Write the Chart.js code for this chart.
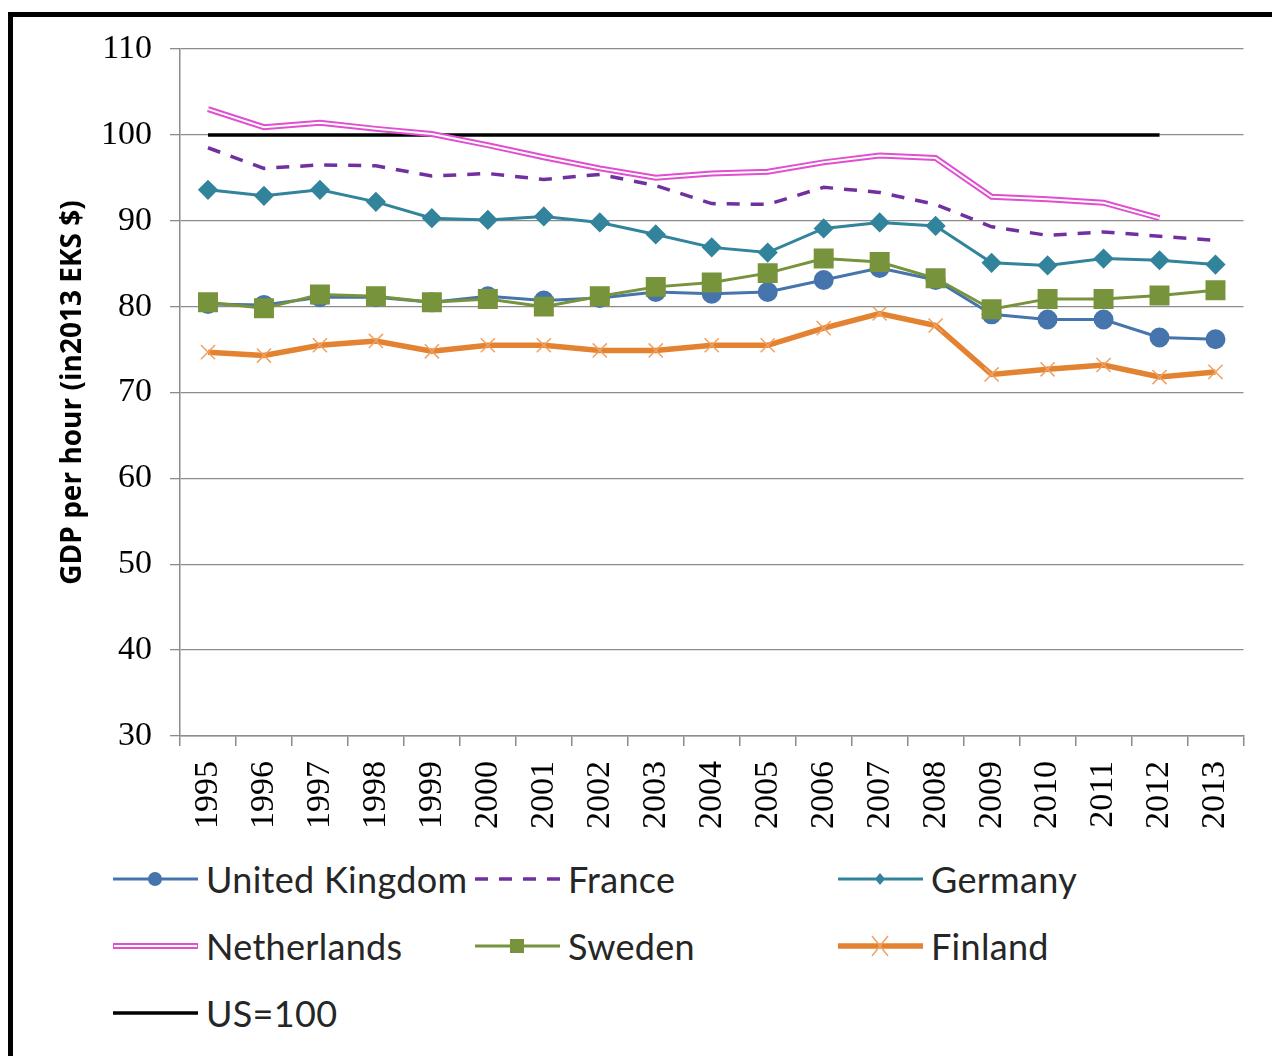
<!DOCTYPE html>
<html>
<head>
<meta charset="utf-8">
<script src="https://cdn.jsdelivr.net/npm/chart.js@4.4.1/dist/chart.umd.min.js"></script>
<style>
  body { margin: 0; background: #fff; }
  #wrap { position: relative; width: 1272px; height: 1056px; overflow: hidden; background: #fff; }
  #frame { position: absolute; left: 8px; top: 12px; width: 1320px; height: 1120px; border: 5px solid #000; box-sizing: border-box; }
  #chart { position: absolute; left: 0; top: 0; }
  .item { position: absolute; height: 44px; display: flex; align-items: center; font-family: Lato, sans-serif; font-size: 36px; letter-spacing: 0.3px; color: #262626; white-space: nowrap; }
  .item svg { margin-right: 8px; }
</style>
</head>
<body>
<div id="wrap">
  <div id="frame"></div>
  <canvas id="chart" width="1272" height="850"></canvas>
  <div id="legend"></div>
</div>
<script>
const years = ['1995', '1996', '1997', '1998', '1999', '2000', '2001', '2002', '2003', '2004',
  '2005', '2006', '2007', '2008', '2009', '2010', '2011', '2012', '2013'];

const ukValues = [80.3, 80.2, 81.1, 81.1, 80.5, 81.2, 80.7, 81.0, 81.7, 81.5, 81.7, 83.1, 84.5, 83.1, 79.1, 78.5, 78.5, 76.4, 76.2];
const franceValues = [98.5, 96.1, 96.5, 96.4, 95.2, 95.5, 94.8, 95.4, 94.1, 92.0, 91.9, 93.9, 93.3, 91.9, 89.3, 88.3, 88.7, 88.2, 87.7];
const germanyValues = [93.6, 92.9, 93.6, 92.2, 90.3, 90.1, 90.5, 89.8, 88.4, 86.9, 86.3, 89.1, 89.8, 89.4, 85.1, 84.8, 85.6, 85.4, 84.9];
const netherlandsValues = [103.0, 100.9, 101.4, 100.7, 100.1, 98.8, 97.4, 96.1, 95.0, 95.5, 95.7, 96.8, 97.6, 97.3, 92.8, 92.5, 92.1, 90.3, null];
const swedenValues = [80.5, 79.8, 81.4, 81.2, 80.5, 80.9, 80.0, 81.2, 82.3, 82.8, 83.9, 85.6, 85.2, 83.3, 79.7, 80.9, 80.9, 81.3, 81.9];
const finlandValues = [74.7, 74.3, 75.5, 76.0, 74.8, 75.5, 75.5, 74.9, 74.9, 75.5, 75.5, 77.5, 79.2, 77.8, 72.1, 72.7, 73.2, 71.8, 72.4];
const usValues = [100, 100, 100, 100, 100, 100, 100, 100, 100, 100, 100, 100, 100, 100, 100, 100, 100, 100, null];

const yTicks = [30, 40, 50, 60, 70, 80, 90, 100, 110];

const tickFont = { family: "'Liberation Serif', serif", size: 34 };

const datasets = [
  { label: 'United Kingdom', data: ukValues, borderColor: '#4674AC', backgroundColor: '#4674AC', borderWidth: 3,
    pointStyle: 'circle', pointRadius: 8.5, order: 2 },
  { label: 'France', data: franceValues, borderColor: '#7030A0', backgroundColor: '#7030A0', borderWidth: 3.5,
    borderDash: [13, 11], pointRadius: 0, order: 5 },
  { label: 'Germany', data: germanyValues, borderColor: '#31849B', backgroundColor: '#31849B', borderWidth: 3,
    pointStyle: 'rectRot', pointRadius: 8, order: 4 },
  { label: 'Netherlands', data: netherlandsValues, borderColor: '#E04FD0', backgroundColor: '#E04FD0', borderWidth: 6,
    pointRadius: 0, order: 7 },
  { label: 'nl-inner', data: netherlandsValues, borderColor: '#ffffff', borderWidth: 2,
    pointRadius: 0, order: 6 },
  { label: 'Sweden', data: swedenValues, borderColor: '#77933C', backgroundColor: '#77933C', borderWidth: 3,
    pointStyle: 'rect', pointRadius: 12, order: 1 },
  { label: 'Finland', data: finlandValues, borderColor: '#E38231', backgroundColor: '#E38231', borderWidth: 5.5,
    pointStyle: 'crossRot', pointRadius: 10, pointBorderColor: '#F0A060', pointBorderWidth: 1.5, order: 3 },
  { label: 'US=100', data: usValues, borderColor: '#000000', backgroundColor: '#000000', borderWidth: 3.5,
    pointRadius: 0, order: 9 }
];

new Chart(document.getElementById('chart'), {
  type: 'line',
  data: { labels: years, datasets: datasets },
  options: {
    responsive: false,
    animation: false,
    layout: { padding: { left: 56, right: 27, top: 49, bottom: 0 } },
    elements: { line: { tension: 0 } },
    plugins: { legend: { display: false }, tooltip: { enabled: false } },
    scales: {
      x: {
        type: 'category',
        offset: true,
        grid: { offset: true, drawOnChartArea: false, drawTicks: true, tickLength: 10, color: '#8c8c8c', lineWidth: 1.5 },
        border: { color: '#8c8c8c', width: 1.5 },
        ticks: { minRotation: 90, maxRotation: 90, autoSkip: false, padding: 15, color: '#000', font: tickFont },
        afterFit: (s) => { s.height = 114; }
      },
      y: {
        min: 30,
        max: 110,
        afterBuildTicks: (s) => { s.ticks = yTicks.map(v => ({ value: v })); },
        grid: { color: '#8c8c8c', lineWidth: 1.3, tickLength: 10 },
        border: { color: '#8c8c8c', width: 1.5 },
        ticks: { padding: 18, color: '#000', font: tickFont },
        title: { display: true, text: 'GDP per hour (in2013 EKS $)', color: '#000',
          font: { family: "'Open Sans', sans-serif", weight: 'bold', size: 28 }, padding: 0 },
        afterFit: (s) => { s.width = 124; }
      }
    }
  }
});

// legend built from the datasets
const legendItems = [
  { label: 'United Kingdom', x: 113, y: 879 },
  { label: 'France', x: 475, y: 879 },
  { label: 'Germany', x: 838, y: 879 },
  { label: 'Netherlands', x: 113, y: 946 },
  { label: 'Sweden', x: 475, y: 946 },
  { label: 'Finland', x: 838, y: 946 },
  { label: 'US=100', x: 113, y: 1013 }
];

function sampleSvg(ds) {
  const w = 85, h = 30, cy = 15, cx = 42;
  let s = '<svg width="' + w + '" height="' + h + '">';
  const dash = ds.borderDash ? ' stroke-dasharray="' + ds.borderDash.join(' ') + '"' : '';
  s += '<line x1="0" y1="' + cy + '" x2="' + w + '" y2="' + cy + '" stroke="' + ds.borderColor + '" stroke-width="' + ds.borderWidth + '"' + dash + '/>';
  if (ds.label === 'Netherlands') {
    s += '<line x1="1" y1="' + cy + '" x2="' + (w - 1) + '" y2="' + cy + '" stroke="#fff" stroke-width="2"/>';
  }
  if (ds.pointStyle === 'circle') {
    s += '<circle cx="' + cx + '" cy="' + cy + '" r="7" fill="' + ds.backgroundColor + '"/>';
  } else if (ds.pointStyle === 'rectRot') {
    s += '<polygon points="' + cx + ',' + (cy - 6) + ' ' + (cx + 5) + ',' + cy + ' ' + cx + ',' + (cy + 6) + ' ' + (cx - 5) + ',' + cy + '" fill="' + ds.backgroundColor + '"/>';
  } else if (ds.pointStyle === 'rect') {
    s += '<rect x="' + (cx - 7) + '" y="' + (cy - 7) + '" width="14" height="14" fill="' + ds.backgroundColor + '"/>';
  } else if (ds.pointStyle === 'crossRot') {
    s += '<path d="M' + (cx - 8) + ' ' + (cy - 10) + 'L' + (cx + 8) + ' ' + (cy + 10) + 'M' + (cx + 8) + ' ' + (cy - 10) + 'L' + (cx - 8) + ' ' + (cy + 10) + '" stroke="' + ds.pointBorderColor + '" stroke-width="1.5"/>';
  }
  return s + '</svg>';
}

const legendEl = document.getElementById('legend');
legendItems.forEach(item => {
  const ds = datasets.find(d => d.label === item.label);
  const div = document.createElement('div');
  div.className = 'item';
  div.style.left = item.x + 'px';
  div.style.top = (item.y - 22) + 'px';
  div.innerHTML = sampleSvg(ds) + '<span>' + ds.label + '</span>';
  legendEl.appendChild(div);
});
</script>
</body>
</html>
